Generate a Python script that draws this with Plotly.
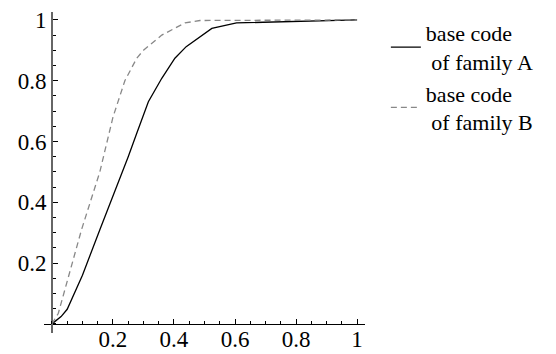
import plotly.graph_objects as go

# Family A (solid)
xa = [0, 0.03, 0.05, 0.1, 0.157, 0.2, 0.25, 0.278, 0.316, 0.36, 0.403, 0.44, 0.524, 0.605, 0.8, 1.0]
ya = [0, 0.024, 0.048, 0.16, 0.31, 0.42, 0.55, 0.627, 0.731, 0.808, 0.874, 0.912, 0.972, 0.99, 0.995, 1.0]
# Family B (dashed)
xb = [0, 0.021, 0.097, 0.157, 0.2, 0.239, 0.278, 0.3, 0.36, 0.436, 0.485, 0.6, 0.8, 1.0]
yb = [0, 0.035, 0.31, 0.5, 0.68, 0.8, 0.874, 0.9, 0.95, 0.99, 0.998, 0.999, 1.0, 1.0]

names = ["base code<br>\u00a0of family A", "base code<br>\u00a0of family B"]
xticks = [0.2, 0.4, 0.6, 0.8, 1]
xticklabels = ["0.2", "0.4", "0.6", "0.8", "1"]
yticks = [0.2, 0.4, 0.6, 0.8, 1]
yticklabels = ["0.2", "0.4", "0.6", "0.8", "1"]

xr = [-0.026, 1.026]
yr = [-0.03, 1.026]

FAM = "Liberation Serif"
tickfont = dict(family=FAM, size=23, color="black")

fig = go.Figure()
fig.add_trace(go.Scatter(x=xa, y=ya, mode="lines", name=names[0],
                         line=dict(color="black", width=1.3)))
fig.add_trace(go.Scatter(x=xb, y=yb, mode="lines", name=names[1],
                         line=dict(color="#888888", width=1.3, dash="6px,4px")))

fig.update_layout(
    width=556, height=354,
    margin=dict(l=44, r=191, t=12, b=21),
    paper_bgcolor="white", plot_bgcolor="white",
    font=dict(family=FAM, size=22, color="black"),
    showlegend=True,
    legend=dict(x=1.065, y=1.0, xanchor="left", yanchor="top",
                font=dict(family=FAM, size=22, color="black"),
                tracegroupgap=0, itemwidth=30, bgcolor="rgba(0,0,0,0)"),
    xaxis=dict(range=xr, showgrid=False, zeroline=False, showline=True,
               linecolor="black", linewidth=1, automargin=False,
               anchor="free", position=(0 - yr[0]) / (yr[1] - yr[0]),
               tickmode="array", tickvals=xticks, ticktext=xticklabels,
               ticks="inside", ticklen=5, tickcolor="black", tickwidth=1,
               ticklabelstandoff=-5,
               minor=dict(dtick=0.05, tick0=0, ticks="inside", ticklen=3, tickcolor="black"),
               tickfont=tickfont),
    yaxis=dict(range=yr, showgrid=False, zeroline=False, showline=True,
               linecolor="#666666", linewidth=1.5, automargin=False,
               anchor="free", position=(0 - xr[0]) / (xr[1] - xr[0]),
               tickmode="array", tickvals=yticks, ticktext=yticklabels,
               ticks="inside", ticklen=5, tickcolor="black", tickwidth=1,
               minor=dict(dtick=0.05, tick0=0, ticks="inside", ticklen=3, tickcolor="black"),
               tickfont=tickfont),
)

fig.write_html("out.html")
